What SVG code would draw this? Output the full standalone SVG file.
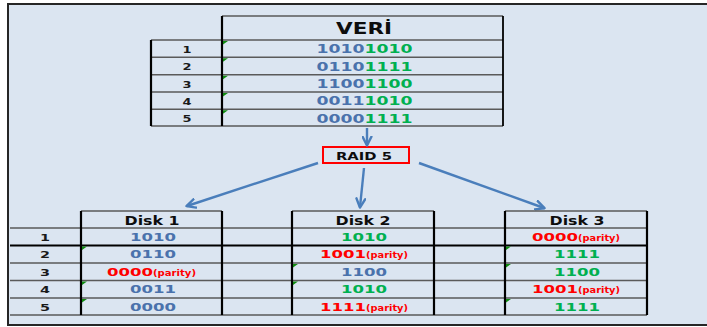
<svg xmlns="http://www.w3.org/2000/svg" width="707" height="327" viewBox="0 0 707 327">
<style>
text{font-family:"DejaVu Sans","Verdana","Liberation Sans",sans-serif;font-weight:bold}
.hd{font-size:15px;fill:#0d0d0d}
.dh{font-size:12px;fill:#0d0d0d}
.num{font-size:9px;fill:#1a1a1a}
.v{font-size:12px}
.c{font-size:11px}
.p{font-size:8px;fill:#ff0000}
.b{fill:#4a72ac}
.g{fill:#00b050}
.r{fill:#ff0000}
.hl{stroke:#5a5a5a;stroke-width:1.6;fill:none}
.bk{stroke:#000;stroke-width:1.8;fill:none}
.vl{stroke:#000;stroke-width:2.2;fill:none}
.tri{fill:#108a10}
.arr{stroke:#4a7ebb;stroke-width:2.4;fill:none;marker-end:url(#ah)}
</style>
<defs>
<marker id="ah" viewBox="0 0 10 10" refX="8.5" refY="5" markerWidth="11" markerHeight="11" markerUnits="userSpaceOnUse" orient="auto">
<path d="M1,1 L9,5 L1,9" fill="none" stroke="#4a7ebb" stroke-width="2.2" stroke-linecap="round" stroke-linejoin="round"/>
</marker>
</defs>
<rect x="0" y="0" width="707" height="327" fill="#ffffff"/>
<rect x="8" y="4" width="699" height="321" fill="#dbe5f1"/>
<path d="M707,4 H8 V325 H707" fill="none" stroke="#262626" stroke-width="2"/>

<g id="veri-table">
<path class="hl" d="M222,16 H503 M151,40 H503 M151,57.3 H503 M151,74.7 H503 M151,92 H503 M151,109.3 H503 M151,126 H503"/>
<path class="bk" d="M503,16 V126"/>
<path class="vl" d="M151,40 V126 M222,16 V126"/>
<path class="tri" d="M223,41 h5 l-5,3.5z M223,58.3 h5 l-5,3.5z M223,75.7 h5 l-5,3.5z M223,93 h5 l-5,3.5z M223,110.3 h5 l-5,3.5z"/>
<text class="hd" x="364" y="34" text-anchor="middle" textLength="56" lengthAdjust="spacingAndGlyphs">VERİ</text>
<text class="num" x="187" y="53" text-anchor="middle" textLength="9" lengthAdjust="spacingAndGlyphs">1</text>
<text class="num" x="187" y="70.3" text-anchor="middle" textLength="9" lengthAdjust="spacingAndGlyphs">2</text>
<text class="num" x="187" y="87.7" text-anchor="middle" textLength="9" lengthAdjust="spacingAndGlyphs">3</text>
<text class="num" x="187" y="105" text-anchor="middle" textLength="9" lengthAdjust="spacingAndGlyphs">4</text>
<text class="num" x="187" y="122.3" text-anchor="middle" textLength="9" lengthAdjust="spacingAndGlyphs">5</text>
<text class="v" x="364.5" y="53.3" text-anchor="middle" textLength="96" lengthAdjust="spacingAndGlyphs"><tspan class="b">1010</tspan><tspan class="g">1010</tspan></text>
<text class="v" x="364.5" y="70.6" text-anchor="middle" textLength="96" lengthAdjust="spacingAndGlyphs"><tspan class="b">0110</tspan><tspan class="g">1111</tspan></text>
<text class="v" x="364.5" y="88" text-anchor="middle" textLength="96" lengthAdjust="spacingAndGlyphs"><tspan class="b">1100</tspan><tspan class="g">1100</tspan></text>
<text class="v" x="364.5" y="105.3" text-anchor="middle" textLength="96" lengthAdjust="spacingAndGlyphs"><tspan class="b">0011</tspan><tspan class="g">1010</tspan></text>
<text class="v" x="364.5" y="122.6" text-anchor="middle" textLength="96" lengthAdjust="spacingAndGlyphs"><tspan class="b">0000</tspan><tspan class="g">1111</tspan></text>
</g>

<g id="raid5">
<rect x="323" y="147" width="86" height="16" fill="none" stroke="#ff0000" stroke-width="2"/>
<text class="c" x="364" y="160" text-anchor="middle" fill="#0d0d0d" textLength="56" lengthAdjust="spacingAndGlyphs">RAID 5</text>
</g>

<g id="connectors">
<path class="arr" d="M367,128 V145"/>
<path class="arr" d="M318,163 L187,206"/>
<path class="arr" d="M364,168 L360,207"/>
<path class="arr" d="M419,163 L544,208"/>
</g>

<g id="disk-grid">
<path class="hl" d="M81,211 H222 M292,211 H434 M505,211 H647 M10,228 H647 M10,263 H647 M10,280.5 H647 M10,298 H647 M10,315 H647"/>
<path class="bk" d="M10,245.5 H647"/>
<path class="vl" d="M81,211 V315 M222,211 V315 M292,211 V315 M434,211 V315 M505,211 V315 M647,211 V315"/>
<text class="num" x="45" y="240.7" text-anchor="middle" textLength="10" lengthAdjust="spacingAndGlyphs">1</text>
<text class="num" x="45" y="258.2" text-anchor="middle" textLength="10" lengthAdjust="spacingAndGlyphs">2</text>
<text class="num" x="45" y="275.7" text-anchor="middle" textLength="10" lengthAdjust="spacingAndGlyphs">3</text>
<text class="num" x="45" y="293.2" text-anchor="middle" textLength="10" lengthAdjust="spacingAndGlyphs">4</text>
<text class="num" x="45" y="310.7" text-anchor="middle" textLength="10" lengthAdjust="spacingAndGlyphs">5</text>
</g>

<g id="disk1">
<text class="dh" x="152" y="224.5" text-anchor="middle" textLength="55" lengthAdjust="spacingAndGlyphs">Disk 1</text>
<path class="tri" d="M82,246.5 h5 l-5,3.5z M82,281.5 h5 l-5,3.5z M82,299 h5 l-5,3.5z"/>
<text class="c b" x="153" y="240.7" text-anchor="middle" textLength="46" lengthAdjust="spacingAndGlyphs">1010</text>
<text class="c b" x="153" y="258.2" text-anchor="middle" textLength="46" lengthAdjust="spacingAndGlyphs">0110</text>
<text class="c r" x="107" y="275.7" textLength="46" lengthAdjust="spacingAndGlyphs">0000</text>
<text class="p" x="153" y="275.7" textLength="43" lengthAdjust="spacingAndGlyphs">(parity)</text>
<text class="c b" x="153" y="293.2" text-anchor="middle" textLength="46" lengthAdjust="spacingAndGlyphs">0011</text>
<text class="c b" x="153" y="310.7" text-anchor="middle" textLength="46" lengthAdjust="spacingAndGlyphs">0000</text>
</g>

<g id="disk2">
<text class="dh" x="363" y="224.5" text-anchor="middle" textLength="55" lengthAdjust="spacingAndGlyphs">Disk 2</text>
<path class="tri" d="M293,264 h5 l-5,3.5z M293,281.5 h5 l-5,3.5z"/>
<text class="c g" x="364" y="240.7" text-anchor="middle" textLength="46" lengthAdjust="spacingAndGlyphs">1010</text>
<text class="c r" x="320" y="258.2" textLength="46" lengthAdjust="spacingAndGlyphs">1001</text>
<text class="p" x="366" y="258.2" textLength="42" lengthAdjust="spacingAndGlyphs">(parity)</text>
<text class="c b" x="364" y="275.7" text-anchor="middle" textLength="46" lengthAdjust="spacingAndGlyphs">1100</text>
<text class="c g" x="364" y="293.2" text-anchor="middle" textLength="46" lengthAdjust="spacingAndGlyphs">1010</text>
<text class="c r" x="320" y="310.7" textLength="46" lengthAdjust="spacingAndGlyphs">1111</text>
<text class="p" x="366" y="310.7" textLength="42" lengthAdjust="spacingAndGlyphs">(parity)</text>
</g>

<g id="disk3">
<text class="dh" x="577" y="224.5" text-anchor="middle" textLength="55" lengthAdjust="spacingAndGlyphs">Disk 3</text>
<path class="tri" d="M506,246.5 h5 l-5,3.5z M506,264 h5 l-5,3.5z M506,299 h5 l-5,3.5z"/>
<text class="c r" x="532" y="240.7" textLength="46" lengthAdjust="spacingAndGlyphs">0000</text>
<text class="p" x="578" y="240.7" textLength="42" lengthAdjust="spacingAndGlyphs">(parity)</text>
<text class="c g" x="577" y="258.2" text-anchor="middle" textLength="46" lengthAdjust="spacingAndGlyphs">1111</text>
<text class="c g" x="577" y="275.7" text-anchor="middle" textLength="46" lengthAdjust="spacingAndGlyphs">1100</text>
<text class="c r" x="532" y="293.2" textLength="46" lengthAdjust="spacingAndGlyphs">1001</text>
<text class="p" x="578" y="293.2" textLength="42" lengthAdjust="spacingAndGlyphs">(parity)</text>
<text class="c g" x="577" y="310.7" text-anchor="middle" textLength="46" lengthAdjust="spacingAndGlyphs">1111</text>
</g>
</svg>
